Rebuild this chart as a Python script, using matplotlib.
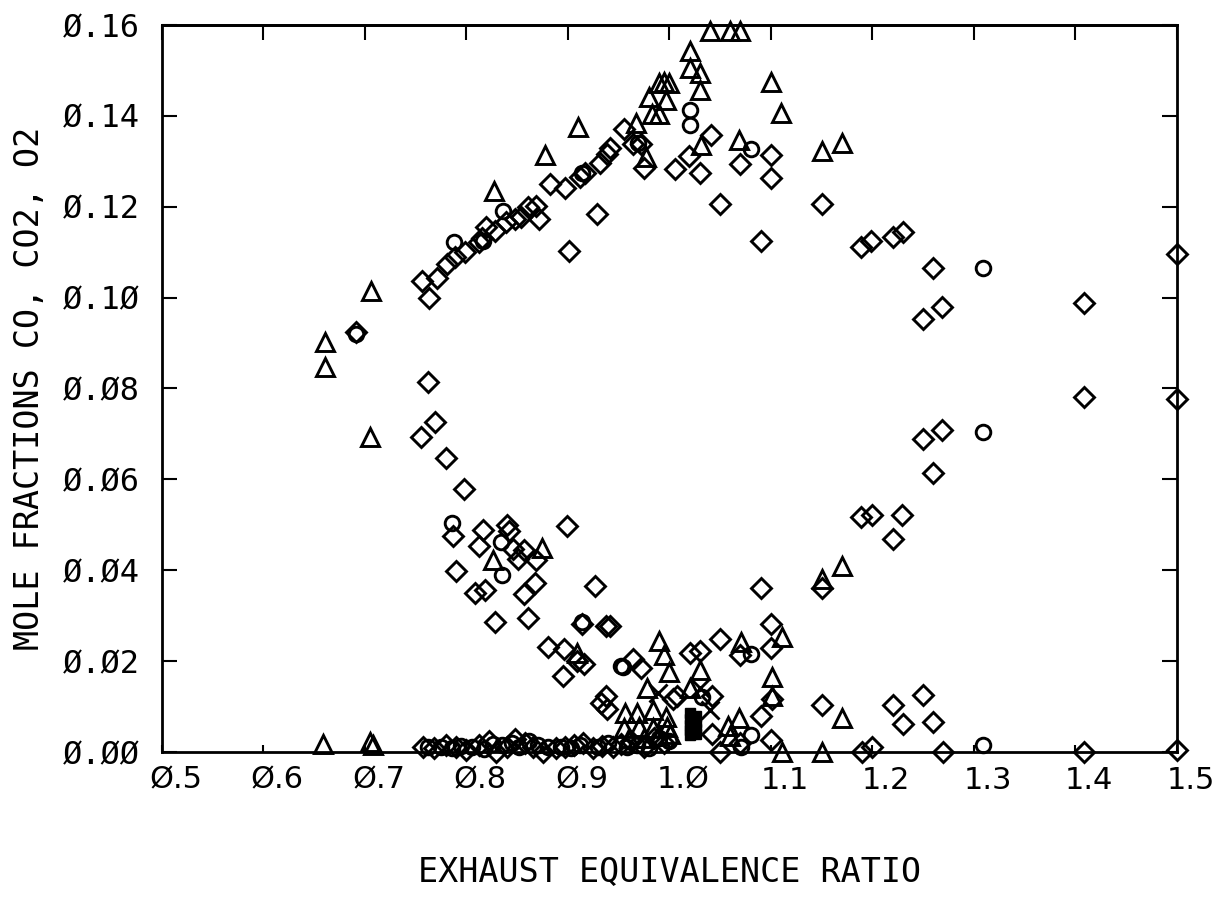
import numpy as np
import matplotlib
matplotlib.use("Agg")
import matplotlib.pyplot as plt
from matplotlib.transforms import ScaledTranslation

plt.rcParams['font.family'] = ['DejaVu Sans Mono', 'DejaVu Sans']

# triangles (upper branch + lower branch + near zero)
tri_x = [0.661, 0.661, 0.706, 0.827, 0.877, 0.910, 0.967, 0.977, 0.980, 0.997, 0.983, 0.990,
         0.990, 0.995, 1.000, 1.020, 1.020, 1.030, 1.030, 1.031, 1.040, 1.060, 1.070, 1.069,
         1.100, 1.110, 1.150, 1.170,
         0.705, 0.826, 0.875, 0.909, 0.990, 0.995, 1.000, 0.978, 1.020, 1.030, 1.071, 1.111,
         1.101, 1.101, 1.069, 1.058, 1.060, 1.150, 1.170, 1.170,
         0.956, 0.968, 0.984, 0.997, 0.955, 0.970, 0.984, 0.998, 0.960, 0.975, 0.990, 1.001,
         0.659, 0.705, 0.708, 1.111, 1.150]
tri_y = [0.0903, 0.0848, 0.1014, 0.1235, 0.1314, 0.1375, 0.1385, 0.1310, 0.1442, 0.1434, 0.1403, 0.1403,
         0.1472, 0.1475, 0.1472, 0.1542, 0.1506, 0.1495, 0.1457, 0.1336, 0.1586, 0.1586, 0.1586, 0.1347,
         0.1474, 0.1407, 0.1322, 0.1340,
         0.0693, 0.0423, 0.0449, 0.0218, 0.0244, 0.0213, 0.0176, 0.0141, 0.0141, 0.0180, 0.0242, 0.0253,
         0.0165, 0.0123, 0.0075, 0.0057, 0.0035, 0.0380, 0.0409, 0.0075,
         0.0086, 0.0086, 0.0092, 0.0077, 0.0053, 0.0055, 0.0053, 0.0055, 0.0030, 0.0030, 0.0035, 0.0040,
         0.0017, 0.0022, 0.0015, 0.0000, 0.0000]

# diamonds
dia_x = [0.691, 0.756, 0.771, 0.763, 0.781, 0.789, 0.799, 0.812, 0.815, 0.819, 0.828, 0.839,
         0.848, 0.854, 0.861, 0.869, 0.872, 0.882, 0.897, 0.901, 0.912, 0.917, 0.929, 0.932,
         0.939, 0.942, 0.955, 0.964, 0.972, 0.975, 1.006, 1.041, 1.019, 1.030, 1.070, 1.100,
         1.100, 1.050, 1.150, 1.090, 1.189, 1.199, 1.220, 1.230, 1.260, 1.250, 1.269, 1.409, 1.500,
         0.7625, 0.769, 0.755, 0.780, 0.798, 0.787, 0.816, 0.812, 0.840, 0.842, 0.846, 0.857,
         0.851, 0.869, 0.899, 0.790, 0.809, 0.818, 0.868, 0.857, 0.927, 0.828, 0.8605, 0.914,
         0.9375, 0.942, 0.8805, 0.896, 0.895, 0.909, 0.916, 0.964, 0.972, 0.933, 0.9375, 0.939,
         1.004, 1.409, 1.500, 1.250, 1.269, 1.260, 1.189, 1.1996, 1.2296, 1.220, 1.090, 1.150,
         1.100, 1.100, 1.050, 1.070, 1.0204, 1.030, 1.101, 1.090, 1.008, 1.042, 1.150, 1.220,
         1.250, 1.230, 1.260, 1.042, 1.070, 1.100, 1.050, 1.190, 1.200, 1.270, 1.409, 1.500,
         0.757, 0.768, 0.780, 0.790, 0.800, 0.812, 0.822, 0.829, 0.840, 0.848, 0.858, 0.866,
         0.876, 0.888, 0.897, 0.906, 0.915, 0.925, 0.934, 0.944, 0.952, 0.962, 0.975, 0.985, 0.995]
dia_y = [0.0925, 0.1036, 0.1042, 0.0998, 0.1074, 0.1089, 0.1100, 0.1122, 0.1130, 0.1155, 0.1147, 0.1166,
         0.1173, 0.1177, 0.1199, 0.1202, 0.1173, 0.1250, 0.1242, 0.1102, 0.1265, 0.1275, 0.1184, 0.1297,
         0.1315, 0.1330, 0.1370, 0.1337, 0.1337, 0.1286, 0.1283, 0.1358, 0.1311, 0.1275, 0.1293, 0.1313,
         0.1262, 0.1205, 0.1205, 0.1124, 0.1111, 0.1124, 0.1133, 0.1145, 0.1064, 0.0952, 0.0979, 0.0988, 0.1096,
         0.0815, 0.0727, 0.0694, 0.0647, 0.0579, 0.0476, 0.0488, 0.0454, 0.0499, 0.0486, 0.0447, 0.0445,
         0.0425, 0.0423, 0.0498, 0.0398, 0.0350, 0.0357, 0.0372, 0.0347, 0.0365, 0.0286, 0.0295, 0.0282,
         0.0277, 0.0277, 0.0232, 0.0226, 0.0167, 0.0200, 0.0193, 0.0205, 0.0185, 0.0108, 0.0123, 0.0094,
         0.0116, 0.0781, 0.0777, 0.0689, 0.0708, 0.0614, 0.0516, 0.0521, 0.0521, 0.0469, 0.0361, 0.0360,
         0.0282, 0.0228, 0.0248, 0.0213, 0.0218, 0.0222, 0.0116, 0.0080, 0.0123, 0.0123, 0.0103, 0.0103,
         0.0125, 0.0061, 0.0066, 0.0039, 0.0019, 0.0026, 0.0000, 0.0000, 0.0010, 0.0000, 0.0000, 0.0005,
         0.0012, 0.0008, 0.0015, 0.0010, 0.0005, 0.0016, 0.0025, 0.0000, 0.0010, 0.0028, 0.0020, 0.0012,
         0.0000, 0.0008, 0.0012, 0.0015, 0.0020, 0.0008, 0.0014, 0.0010, 0.0018, 0.0025, 0.0010, 0.0030, 0.0020]

# circles
cir_x = [0.691, 0.788, 0.836, 0.816, 0.914, 0.969, 1.020, 1.020, 1.080, 1.309, 0.786, 0.834,
         0.835, 0.914, 0.9525, 1.080, 1.032, 1.080, 1.071, 1.309, 1.309, 0.954,
         0.762, 0.775, 0.786, 0.795, 0.806, 0.817, 0.826, 0.835, 0.845, 0.852, 0.862, 0.871,
         0.880, 0.893, 0.903, 0.912, 0.930, 0.940, 0.958, 0.968, 0.980, 0.990, 1.000]
cir_y = [0.0920, 0.1122, 0.1191, 0.1125, 0.1275, 0.1340, 0.1412, 0.1380, 0.1326, 0.1066, 0.0504, 0.0462,
         0.0390, 0.0285, 0.0190, 0.0215, 0.0121, 0.0037, 0.0011, 0.0705, 0.0015, 0.0187,
         0.0010, 0.0012, 0.0008, 0.0014, 0.0010, 0.0006, 0.0018, 0.0015, 0.0020, 0.0010, 0.0025, 0.0015,
         0.0010, 0.0012, 0.0008, 0.0015, 0.0012, 0.0020, 0.0010, 0.0015, 0.0008, 0.0030, 0.0025]

# crosses and filled squares
crs_x = [0.989, 1.030, 1.040]
crs_y = [0.0130, 0.0141, 0.0092]
sq_x = [1.020, 1.020, 1.020, 1.020, 1.020, 1.026, 1.026, 1.026, 1.026]
sq_y = [0.0085, 0.0072, 0.0060, 0.0048, 0.0038, 0.0080, 0.0065, 0.0050, 0.0040]

xticks = [0.5, 0.6, 0.7, 0.8, 0.9, 1.0, 1.1, 1.2, 1.3, 1.4, 1.5]
xlabels = ["Ø.5", "Ø.6", "Ø.7", "Ø.8", "Ø.9", "1.Ø", "1.1", "1.2", "1.3", "1.4", "1.5"]
yticks = [0.0, 0.02, 0.04, 0.06, 0.08, 0.10, 0.12, 0.14, 0.16]
ylabels = ["Ø.ØØ", "Ø.Ø2", "Ø.Ø4", "Ø.Ø6", "Ø.Ø8", "Ø.1Ø", "Ø.12", "Ø.14", "Ø.16"]

fig = plt.figure(figsize=(12.17, 9.21), dpi=100)
ax = fig.add_axes([0.133, 0.1835, 0.834, 0.7895])

kw = dict(linestyle='none', mfc='none', mec='black', mew=2.1, clip_on=False)
ax.plot(dia_x, dia_y, marker='D', markersize=10, **kw)
ax.plot(tri_x, tri_y, marker='^', markersize=13, **kw)
ax.plot(cir_x, cir_y, marker='o', markersize=10.5, **kw)
ax.plot(crs_x, crs_y, marker='x', markersize=13, linestyle='none', color='black', mew=2.1)
ax.plot(sq_x, sq_y, marker='s', markersize=7, linestyle='none', color='black')

ax.set_xlim(0.5, 1.5)
ax.set_ylim(0.0, 0.16)

for s in ax.spines.values():
    s.set_linewidth(2.0)

ax.set_xticks(xticks)
ax.set_xticklabels(xlabels, fontsize=22, family=['DejaVu Sans'])
ax.set_yticks(yticks)
ax.set_yticklabels(ylabels, fontsize=23)
ax.tick_params(axis='x', direction='in', length=5, width=1.5, pad=10)
ax.tick_params(axis='y', direction='in', length=11, width=1.5, pad=16, left=True, right=True)

for lab in ax.get_xticklabels():
    lab.set_transform(lab.get_transform() + ScaledTranslation(0.14, 0, fig.dpi_scale_trans))

top = ax.secondary_xaxis('top')
top.set_xticks(xticks)
top.tick_params(direction='in', length=11, width=1.5, labeltop=False)
top.spines['top'].set_linewidth(2.0)

ax.set_xlabel("EXHAUST EQUIVALENCE RATIO", fontsize=24)
ax.xaxis.set_label_coords(0.5, -0.143)
ax.set_ylabel("MOLE FRACTIONS CO, CO2, O2", fontsize=24, va='center')
ax.yaxis.set_label_coords(-0.130, 0.5)

fig.savefig("out.png", dpi=100)
